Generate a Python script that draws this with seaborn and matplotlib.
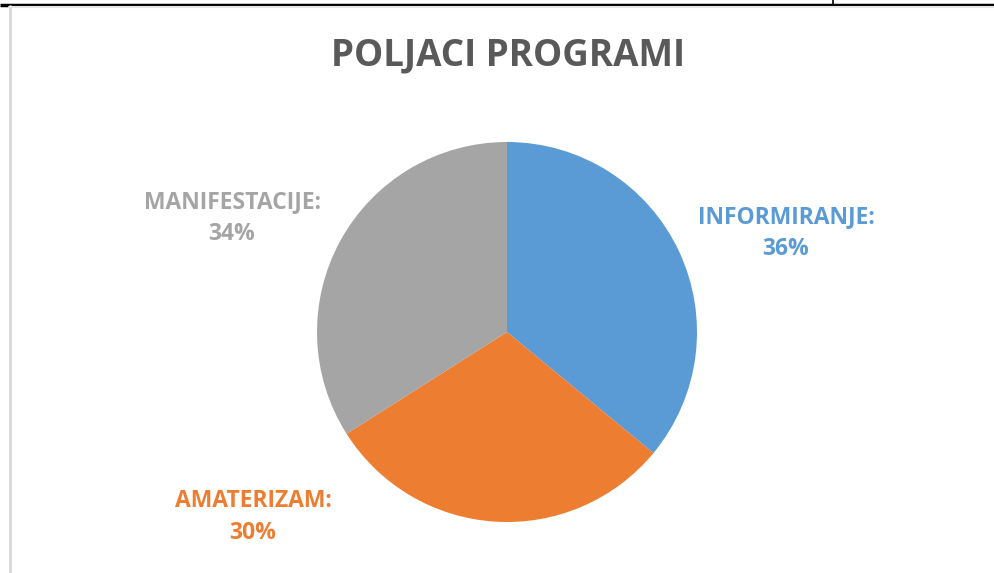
import numpy as np
import matplotlib.pyplot as plt
import seaborn as sns

# chart data
categories = ["INFORMIRANJE", "AMATERIZAM", "MANIFESTACIJE"]
shares = [36, 30, 34]
colors = ["#5B9BD5", "#ED7D31", "#A5A5A5"]
title = "POLJACI PROGRAMI"

sns.set_theme(style="white")
plt.rcParams['font.family'] = ['Open Sans', 'DejaVu Sans']

W, H = 995, 573
fig = plt.figure(figsize=(W / 100, H / 100), dpi=100)
ax = fig.add_axes([0, 0, 1, 1])

# pie in pixel coordinates; y axis is flipped, so start at -90 and
# go counterclockwise in data = clockwise from the top on screen
cx, cy, r = 507, 332, 190
wedges, _ = ax.pie(shares, colors=colors, startangle=-90, counterclock=True,
                   center=(cx, cy), radius=r, frame=True,
                   wedgeprops=dict(linewidth=0))
ax.set_xlim(0, W)
ax.set_ylim(H, 0)
ax.axis('off')

# labels
label_pos = [(786, 233), (253, 517), (232, 218)]
for cat, val, col, (lx, ly) in zip(categories, shares, colors, label_pos):
    ax.text(lx, ly, f"{cat}:\n{val}%", ha='center', va='center', color=col,
            fontsize=16.5, fontweight='bold', linespacing=1.4)

ax.text(508, 55, title, ha='center', va='center', color='#595959',
        fontsize=26.5, fontweight='bold')

# frame lines of the surrounding document
ax.plot([0, W], [4.5, 4.5], color='black', lw=2.5, solid_capstyle='butt')
ax.plot([833, 833], [0, 4], color='black', lw=1.2)
ax.plot([9.5, 9.5], [6, H], color='#D9D9D9', lw=2)
ax.plot([9, W], [6.5, 6.5], color='#E6E6E6', lw=1.5)

fig.savefig("out.png", dpi=100)
